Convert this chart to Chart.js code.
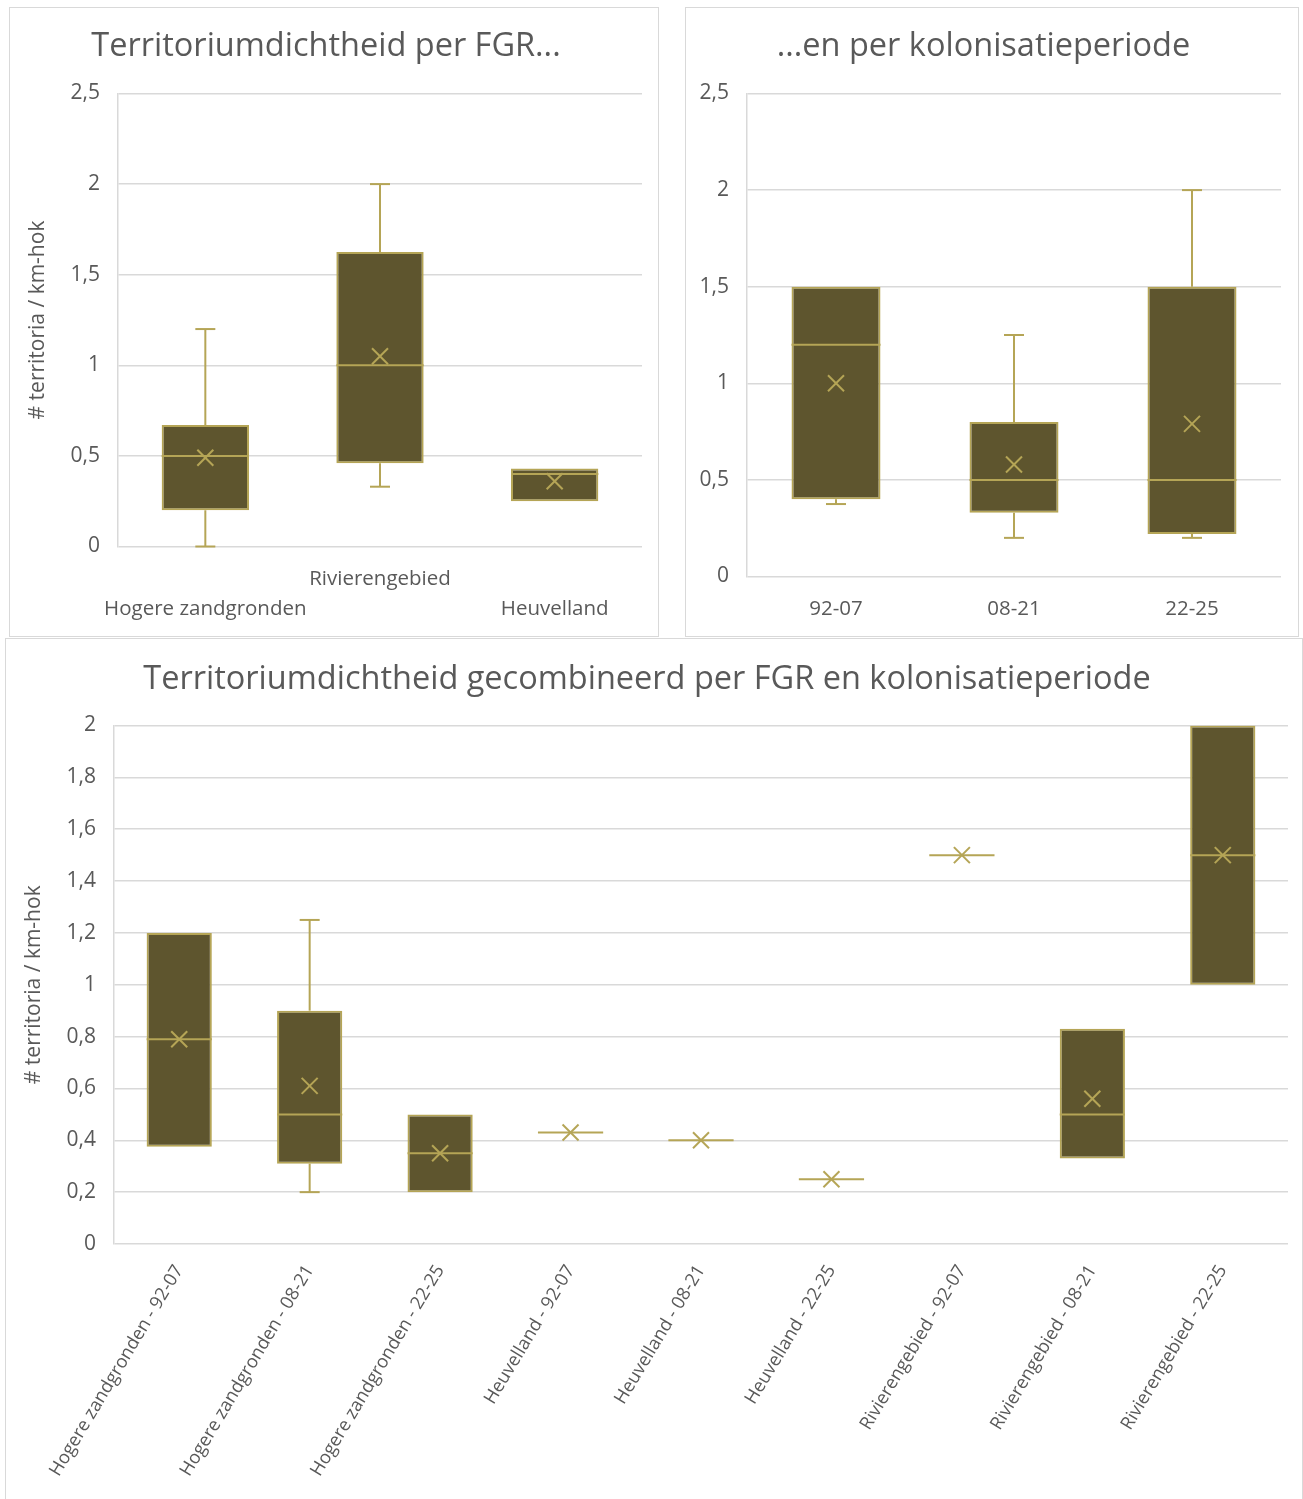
<!DOCTYPE html>
<html>
<head>
<meta charset="utf-8">
<script src="https://cdn.jsdelivr.net/npm/chart.js@4.4.1/dist/chart.umd.min.js"></script>
<style>
  body { margin: 0; background: #fff; width: 1303px; height: 1499px; position: relative; overflow: hidden; }
  .panel { position: absolute; border: 1.5px solid #d9d9d9; box-sizing: border-box; background: #fff; }
  .panel canvas { position: absolute; left: 0; top: 0; }
</style>
</head>
<body>
<div class="panel" style="left:9px;top:7px;width:650px;height:630px;"><canvas id="fgr-chart"></canvas></div>
<div class="panel" style="left:685px;top:7px;width:614px;height:630px;"><canvas id="period-chart"></canvas></div>
<div class="panel" style="left:5px;top:638px;width:1298px;height:864px;"><canvas id="combined-chart"></canvas></div>
<script>
// --- chart 1: per FGR ---
const fgrLabels = ['Hogere zandgronden', 'Rivierengebied', 'Heuvelland'];
const fgrMin    = [0,    0.33, 0.25];
const fgrQ1     = [0.2,  0.46, 0.25];
const fgrMedian = [0.5,  1.0,  0.4];
const fgrQ3     = [0.67, 1.625, 0.43];
const fgrMax    = [1.2,  2.0,  0.43];
const fgrMean   = [0.49, 1.05, 0.36];

// --- chart 2: per kolonisatieperiode ---
const periodLabels = ['92-07', '08-21', '22-25'];
const periodMin    = [0.375, 0.2,  0.2];
const periodQ1     = [0.4,   0.33, 0.22];
const periodMedian = [1.2,   0.5,  0.5];
const periodQ3     = [1.5,   0.8,  1.5];
const periodMax    = [1.5,   1.25, 2.0];
const periodMean   = [1.0,   0.58, 0.79];

// --- chart 3: combined ---
const combinedLabels = [
    'Hogere zandgronden - 92-07', 'Hogere zandgronden - 08-21', 'Hogere zandgronden - 22-25',
    'Heuvelland - 92-07', 'Heuvelland - 08-21', 'Heuvelland - 22-25',
    'Rivierengebied - 92-07', 'Rivierengebied - 08-21', 'Rivierengebied - 22-25'
];
const combinedMin    = [0.375, 0.2,  0.2,  0.43, 0.4, 0.25, 1.5, 0.33, 1.0];
const combinedQ1     = [0.375, 0.31, 0.2,  0.43, 0.4, 0.25, 1.5, 0.33, 1.0];
const combinedMedian = [0.79,  0.5,  0.35, 0.43, 0.4, 0.25, 1.5, 0.5,  1.5];
const combinedQ3     = [1.2,   0.9,  0.5,  0.43, 0.4, 0.25, 1.5, 0.83, 2.0];
const combinedMax    = [1.2,   1.25, 0.5,  0.43, 0.4, 0.25, 1.5, 0.83, 2.0];
const combinedMean   = [0.79,  0.61, 0.35, 0.43, 0.4, 0.25, 1.5, 0.56, 1.5];

const BOX_FILL = '#5e552e';
const BOX_LINE = '#b5a556';
const TEXT_COLOR = '#595959';
const GRID_COLOR = '#d9d9d9';
const FONT = "'Open Sans', 'Liberation Sans', sans-serif";

// whiskers, median line and mean cross, drawn on top of the floating bars
const boxExtrasPlugin = {
    id: 'boxExtras',
    afterDatasetsDraw: (chart, args, opts) => {
        const s = opts.stats;
        if (!s) return;
        const { ctx } = chart;
        const yScale = chart.scales.y;
        const meta = chart.getDatasetMeta(0);
        ctx.save();
        ctx.strokeStyle = BOX_LINE;
        ctx.lineWidth = 2;
        ctx.lineCap = 'butt';
        meta.data.forEach((bar, i) => {
            const cx = bar.x;
            const half = bar.width / 2;
            const cap = 10;
            const line = (x1, y1, x2, y2) => {
                ctx.beginPath(); ctx.moveTo(x1, y1); ctx.lineTo(x2, y2); ctx.stroke();
            };
            if (s.max[i] > s.q3[i]) {
                const yT = yScale.getPixelForValue(s.max[i]);
                line(cx, yScale.getPixelForValue(s.q3[i]), cx, yT);
                line(cx - cap, yT, cx + cap, yT);
            }
            if (s.min[i] < s.q1[i]) {
                const yB = yScale.getPixelForValue(s.min[i]);
                line(cx, yScale.getPixelForValue(s.q1[i]), cx, yB);
                line(cx - cap, yB, cx + cap, yB);
            }
            const yMed = yScale.getPixelForValue(s.median[i]);
            line(cx - half, yMed, cx + half, yMed);
            const yMean = yScale.getPixelForValue(s.mean[i]);
            const m = 8;
            line(cx - m, yMean - m, cx + m, yMean + m);
            line(cx - m, yMean + m, cx + m, yMean - m);
        });
        ctx.restore();
    }
};

function commaTick(value) {
    return String(Math.round(value * 100) / 100).replace('.', ',');
}

function makeBoxChart(canvasId, cfg) {
    const canvas = document.getElementById(canvasId);
    const panel = canvas.parentElement;
    canvas.width = panel.clientWidth;
    canvas.height = panel.clientHeight;
    canvas.style.width = panel.clientWidth + 'px';
    canvas.style.height = panel.clientHeight + 'px';

    return new Chart(canvas, {
        type: 'bar',
        plugins: [boxExtrasPlugin],
        data: {
            labels: cfg.labels,
            datasets: [{
                data: cfg.q1.map((v, i) => [v, cfg.q3[i]]),
                backgroundColor: BOX_FILL,
                borderColor: BOX_LINE,
                borderWidth: 2,
                borderSkipped: false,
                barPercentage: 0.5,
                categoryPercentage: 1
            }]
        },
        options: {
            responsive: false,
            animation: false,
            devicePixelRatio: 1,
            layout: { padding: cfg.padding },
            plugins: {
                legend: { display: false },
                tooltip: { enabled: false },
                title: {
                    display: true,
                    text: cfg.title,
                    color: TEXT_COLOR,
                    font: { family: FONT, size: 32.5, weight: 'normal', lineHeight: 1.2 },
                    padding: cfg.titlePadding
                },
                boxExtras: {
                    stats: { min: cfg.min, q1: cfg.q1, median: cfg.median, q3: cfg.q3, max: cfg.max, mean: cfg.mean }
                }
            },
            scales: {
                x: {
                    grid: { display: false, drawTicks: false },
                    border: { display: false },
                    ticks: {
                        color: TEXT_COLOR,
                        font: { family: FONT, size: cfg.xFont, lineHeight: 1.45 },
                        padding: cfg.xTickPadding,
                        autoSkip: false,
                        minRotation: cfg.rotation,
                        maxRotation: cfg.rotation
                    },
                    afterFit: (scale) => { scale.height = cfg.xHeight; }
                },
                y: {
                    min: 0,
                    max: cfg.yMax,
                    grid: { color: GRID_COLOR, lineWidth: 1.5, drawTicks: false },
                    border: { display: true, color: GRID_COLOR, width: 1.5 },
                    ticks: {
                        stepSize: cfg.yStep,
                        color: TEXT_COLOR,
                        font: { family: FONT, size: 21 },
                        padding: 18,
                        callback: commaTick
                    },
                    title: {
                        display: !!cfg.yTitle,
                        text: cfg.yTitle || '',
                        color: TEXT_COLOR,
                        font: { family: FONT, size: 21, lineHeight: 1.2 },
                        padding: { top: 15, bottom: 0 }
                    },
                    afterFit: (scale) => { scale.width = cfg.yWidth; }
                }
            }
        }
    });
}

makeBoxChart('fgr-chart', {
    title: 'Territoriumdichtheid per FGR...',
    // staggered category labels, like the original
    labels: [['', fgrLabels[0]], [fgrLabels[1], ''], ['', fgrLabels[2]]],
    min: fgrMin, q1: fgrQ1, median: fgrMedian, q3: fgrQ3, max: fgrMax, mean: fgrMean,
    yMax: 2.5, yStep: 0.5, yTitle: '# territoria / km-hok',
    padding: { left: 0, right: 16, top: 0, bottom: 0 },
    titlePadding: { top: 19, bottom: 27.5 },
    yWidth: 108, xHeight: 89.5, xTickPadding: 18, xFont: 20.5, rotation: 0
});

makeBoxChart('period-chart', {
    title: '...en per kolonisatieperiode',
    labels: periodLabels,
    min: periodMin, q1: periodQ1, median: periodMedian, q3: periodQ3, max: periodMax, mean: periodMean,
    yMax: 2.5, yStep: 0.5, yTitle: null,
    padding: { left: 0, right: 17, top: 0, bottom: 0 },
    titlePadding: { top: 19, bottom: 27.5 },
    yWidth: 61, xHeight: 59.5, xTickPadding: 18, xFont: 20.5, rotation: 0
});

makeBoxChart('combined-chart', {
    title: 'Territoriumdichtheid gecombineerd per FGR en kolonisatieperiode',
    labels: combinedLabels,
    min: combinedMin, q1: combinedQ1, median: combinedMedian, q3: combinedQ3, max: combinedMax, mean: combinedMean,
    yMax: 2, yStep: 0.2, yTitle: '# territoria / km-hok',
    padding: { left: 0, right: 14, top: 0, bottom: 0 },
    titlePadding: { top: 21, bottom: 26.5 },
    yWidth: 108, xHeight: 257, xTickPadding: 16, xFont: 18.2, rotation: 59
});
</script>
</body>
</html>
